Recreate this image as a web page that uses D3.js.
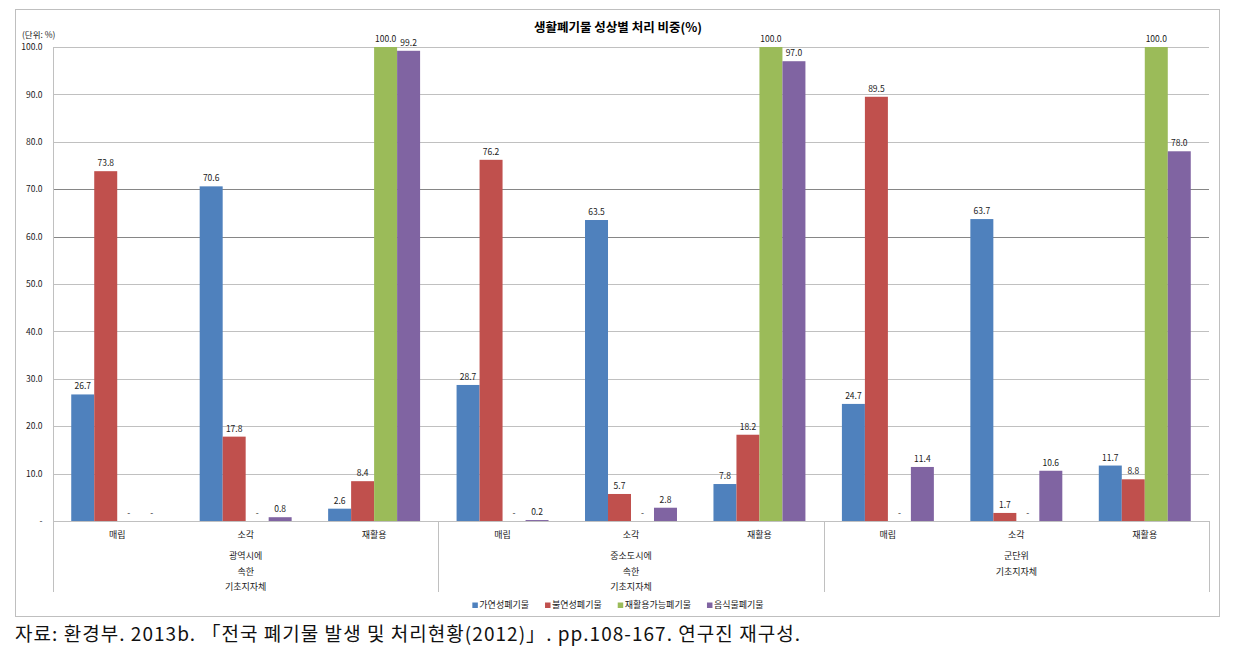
<!DOCTYPE html>
<html>
<head>
<meta charset="utf-8">
<script src="https://cdn.jsdelivr.net/npm/d3@7"></script>
<style>
  html, body { margin: 0; padding: 0; background: #fff; }
  svg { display: block; }
  text { font-family: "Noto Sans CJK KR", "Noto Sans", sans-serif; }
</style>
</head>
<body>
<svg id="chart" width="1242" height="648"></svg>
<script>
// ---- data ----
const title = "생활폐기물 성상별 처리 비중(%)";
const unitLabel = "(단위: %)";
const groupLabels = [
  ["광역시에", "속한", "기초지자체"],
  ["중소도시에", "속한", "기초지자체"],
  ["군단위", "기초지자체"]
];
const categories = ["매립", "소각", "재활용"];
const seriesNames = ["가연성폐기물", "불연성폐기물", "재활용가능폐기물", "음식물폐기물"];
const seriesColors = ["#4f81bd", "#c0504d", "#9bbb59", "#8064a2"];
// order: group1(매립,소각,재활용), group2(...), group3(...)
const combustible    = [26.7, 70.6, 2.6, 28.7, 63.5, 7.8, 24.7, 63.7, 11.7];
const nonCombustible = [73.8, 17.8, 8.4, 76.2, 5.7, 18.2, 89.5, 1.7, 8.8];
const recyclable     = [0, 0, 100.0, 0, 0, 100.0, 0, 0, 100.0];
const foodWaste      = [0, 0.8, 99.2, 0.2, 2.8, 97.0, 11.4, 10.6, 78.0];
const yTicks = [0, 10, 20, 30, 40, 50, 60, 70, 80, 90, 100];
const sourceText = "자료: 환경부. 2013b. 「전국 폐기물 발생 및 처리현황(2012)」. pp.108-167. 연구진 재구성.";

const seriesValues = [combustible, nonCombustible, recyclable, foodWaste];

// ---- layout ----
const svg = d3.select("#chart");
const plot = { left: 53, right: 1209, top: 47, bottom: 521 };

// outer border
svg.append("rect")
  .attr("x", 15.5).attr("y", 9.5)
  .attr("width", 1204).attr("height", 607)
  .attr("fill", "#fff").attr("stroke", "#bfbfbf").attr("stroke-width", 1);

const keys = d3.range(groupLabels.length * categories.length);
const x0 = d3.scaleBand().domain(keys).range([plot.left, plot.right]).paddingInner(0).paddingOuter(0);
const x1 = d3.scaleBand().domain(d3.range(seriesNames.length))
  .range([x0.bandwidth() * 0.142, x0.bandwidth() * 0.858]).padding(0);
const y = d3.scaleLinear().domain([0, 100]).range([plot.bottom, plot.top]);

// gridlines
svg.append("g").selectAll("line").data(yTicks.filter(d => d > 0)).join("line")
  .attr("x1", plot.left).attr("x2", plot.right)
  .attr("y1", d => Math.round(y(d)) + 0.5).attr("y2", d => Math.round(y(d)) + 0.5)
  .attr("stroke", d => (d === 60 || d === 70) ? "#868686" : "#c0c0c0")
  .attr("stroke-width", 1);

// y axis using d3 axis
const yAxis = d3.axisLeft(y).tickValues(yTicks).tickSize(0).tickPadding(11)
  .tickFormat(d => d === 0 ? "-" : d3.format(".1f")(d));
const gy = svg.append("g").attr("transform", `translate(${plot.left + 0.5},0)`).call(yAxis);
gy.select(".domain").remove();
gy.selectAll("text").attr("font-size", "8.5px").attr("fill", "#1a1a1a")
  .attr("font-family", "'Noto Sans', 'Noto Sans CJK KR', sans-serif");

// bars
const barG = svg.append("g");
seriesValues.forEach((vals, si) => {
  barG.append("g").selectAll("rect").data(vals.map((v, i) => ({ v, i }))).join("rect")
    .attr("x", d => x0(d.i) + x1(si))
    .attr("width", x1.bandwidth())
    .attr("y", d => y(d.v))
    .attr("height", d => y(0) - y(d.v))
    .attr("fill", seriesColors[si]);
});

// value labels
const labG = svg.append("g");
seriesValues.forEach((vals, si) => {
  labG.append("g").selectAll("text").data(vals.map((v, i) => ({ v, i }))).join("text")
    .attr("x", d => x0(d.i) + x1(si) + x1.bandwidth() / 2)
    .attr("y", d => y(d.v) - 5)
    .attr("text-anchor", "middle")
    .attr("font-size", "8.5px")
    .attr("font-family", "'Noto Sans', 'Noto Sans CJK KR', sans-serif")
    .attr("fill", "#1a1a1a")
    .text(d => d.v === 0 ? "-" : d3.format(".1f")(d.v));
});

// axes lines
svg.append("line").attr("x1", plot.left).attr("x2", plot.right)
  .attr("y1", plot.bottom + 0.5).attr("y2", plot.bottom + 0.5)
  .attr("stroke", "#c0c0c0");
// vertical lines: left axis, group separators, right end
const nG = groupLabels.length, nC = categories.length;
const sepXs = d3.range(nG + 1).map(g => g === nG ? plot.right : x0(g * nC));
svg.append("line").attr("x1", plot.left + 0.5).attr("x2", plot.left + 0.5)
  .attr("y1", plot.top).attr("y2", 592).attr("stroke", "#c0c0c0");
svg.append("g").selectAll("line").data(sepXs.slice(1)).join("line")
  .attr("x1", d => Math.round(d) + 0.5).attr("x2", d => Math.round(d) + 0.5)
  .attr("y1", plot.bottom).attr("y2", 592).attr("stroke", "#c0c0c0");

// category labels
svg.append("g").selectAll("text").data(keys).join("text")
  .attr("x", d => x0(d) + x0.bandwidth() / 2)
  .attr("y", 538)
  .attr("text-anchor", "middle")
  .attr("font-size", "9px").attr("fill", "#1a1a1a")
  .text(d => categories[d % nC]);

// group labels
groupLabels.forEach((lines, g) => {
  const cx = (x0(g * nC) + x0(g * nC + nC - 1) + x0.bandwidth()) / 2;
  svg.append("g").selectAll("text").data(lines).join("text")
    .attr("x", cx)
    .attr("y", (d, i) => 559 + i * 15.5)
    .attr("text-anchor", "middle")
    .attr("font-size", "9px").attr("fill", "#1a1a1a")
    .text(d => d);
});

// title
svg.append("text").attr("x", 618).attr("y", 32).attr("text-anchor", "middle")
  .attr("font-size", "12.5px").attr("font-weight", "bold").attr("fill", "#000")
  .text(title);

// unit label
svg.append("text").attr("x", 22).attr("y", 38)
  .attr("font-size", "8.5px").attr("fill", "#1a1a1a").text(unitLabel);

// legend
const legG = svg.append("g");
let lx = 0;
seriesNames.forEach((name, i) => {
  const it = legG.append("g");
  it.append("rect").attr("x", 0).attr("y", -5.5).attr("width", 5.5).attr("height", 5.5).attr("fill", seriesColors[i]);
  const t = it.append("text").attr("x", 7).attr("y", 0).attr("font-size", "9px").attr("fill", "#1a1a1a").text(name);
  const w = 7 + t.node().getComputedTextLength();
  it.attr("transform", `translate(${lx},0)`);
  lx += w + 16;
});
const legW = lx - 16;
legG.attr("transform", `translate(${618 - legW / 2},608)`);

// source
svg.append("text").attr("x", 15).attr("y", 641)
  .attr("font-size", "19px").attr("fill", "#111")
  .attr("font-family", "'Liberation Serif', 'DejaVu Serif', 'Noto Sans CJK KR', serif")
  .attr("textLength", 785).attr("lengthAdjust", "spacing")
  .text(sourceText);
</script>
</body>
</html>
